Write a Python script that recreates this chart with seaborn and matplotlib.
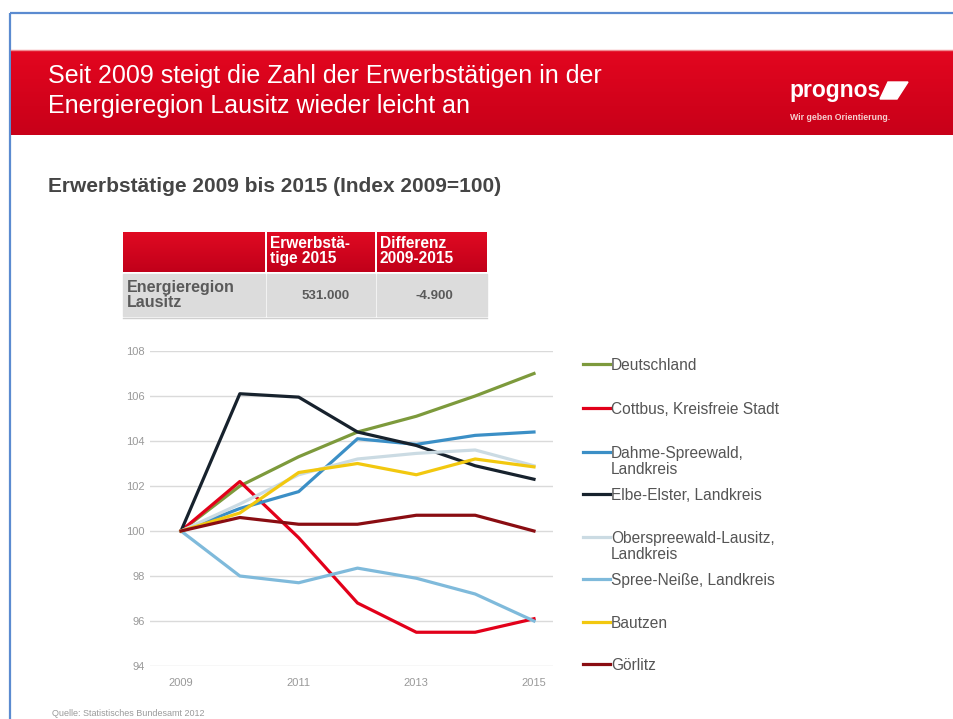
import numpy as np
import pandas as pd
import matplotlib
matplotlib.use("Agg")
import matplotlib.pyplot as plt
from matplotlib.patches import Rectangle
import seaborn as sns

years = [2009, 2010, 2011, 2012, 2013, 2014, 2015]

regions = ["Deutschland", "Cottbus, Kreisfreie Stadt", "Dahme-Spreewald,\nLandkreis",
           "Elbe-Elster, Landkreis", "Oberspreewald-Lausitz,\nLandkreis",
           "Spree-Neiße, Landkreis", "Bautzen", "Görlitz"]

deutschland = [100, 102.0, 103.3, 104.4, 105.1, 106.0, 107.0]
cottbus = [100, 102.2, 99.7, 96.8, 95.5, 95.5, 96.1]
dahme = [100, 101.0, 101.75, 104.1, 103.85, 104.25, 104.4]
elbe = [100, 106.1, 105.95, 104.4, 103.8, 102.9, 102.3]
oberspree = [100, 101.2, 102.5, 103.2, 103.45, 103.6, 102.9]
spree_neisse = [100, 98.0, 97.7, 98.35, 97.9, 97.2, 96.0]
bautzen = [100, 100.8, 102.6, 103.0, 102.5, 103.2, 102.85]
goerlitz = [100, 100.6, 100.3, 100.3, 100.7, 100.7, 100.0]

colors = ["#7d9a3c", "#e2001a", "#3b8fc6", "#17222d", "#cbdbe3",
          "#7fbadb", "#f2c80f", "#8a0d12"]

y_ticks = [94, 96, 98, 100, 102, 104, 106, 108]
x_ticks = [2009, 2011, 2013, 2015]

series = [deutschland, cottbus, dahme, elbe, oberspree, spree_neisse, bautzen, goerlitz]
df = pd.DataFrame({
    "Jahr": years * len(regions),
    "Index": [v for s in series for v in s],
    "Region": [r for r in regions for _ in years],
})
palette = dict(zip(regions, colors))

W, H = 954, 719
fig = plt.figure(figsize=(W / 100, H / 100), dpi=100)
plt.rcParams["font.family"] = ["Liberation Sans", "DejaVu Sans"]

# background in pixel coordinates
bg = fig.add_axes([0, 0, 1, 1])
bg.set_xlim(0, W)
bg.set_ylim(H, 0)
bg.axis("off")

# slide frame
bg.add_patch(Rectangle((10, 13), W + 20, H + 20, fill=False, edgecolor="#5b8bd0", lw=1.6))

# red title band with slight gradient
grad = np.linspace(0, 1, 64).reshape(-1, 1)
cmap_band = matplotlib.colors.LinearSegmentedColormap.from_list("band", ["#e3061f", "#c80019"])
bg.imshow(grad, extent=(11, W, 135, 50), cmap=cmap_band, aspect="auto", zorder=1)
bg.plot([11, W], [50, 50], color="#f08a90", lw=1, zorder=2)

bg.text(48, 76, "Seit 2009 steigt die Zahl der Erwerbstätigen in der", color="white",
        fontsize=18, va="center", ha="left", zorder=3)
bg.text(48, 106, "Energieregion Lausitz wieder leicht an", color="white",
        fontsize=18, va="center", ha="left", zorder=3)

# logo
bg.text(789, 97, "prognos", color="white", fontsize=16.5, fontweight="bold",
        va="baseline", ha="left", zorder=3)
bg.fill([888, 908, 897, 880], [82, 82, 99, 99], color="white", zorder=3)
bg.text(790, 117, "Wir geben Orientierung.", color="#f6d0d0", fontsize=6.3,
        fontweight="bold", va="center", ha="left", zorder=3)

# subtitle
bg.text(48, 187, "Erwerbstätige 2009 bis 2015 (Index 2009=100)", color="#454545",
        fontsize=15, fontweight="bold", va="center", ha="left")

# summary table
cmap_head = matplotlib.colors.LinearSegmentedColormap.from_list("head", ["#e00a22", "#c1001a"])
for x0, x1 in [(123, 265), (267, 375), (377, 487)]:
    bg.imshow(grad, extent=(x0, x1, 272, 232), cmap=cmap_head, aspect="auto", zorder=1)
    bg.add_patch(Rectangle((x0, 274), x1 - x0, 42, color="#dcdcdc", zorder=1))
bg.plot([123, 487], [318, 318], color="#cfcfcf", lw=1)
bg.text(270, 236, "Erwerbstä-\ntige 2015", color="white", fontsize=11.2, fontweight="bold",
        va="top", ha="left", linespacing=1.0)
bg.text(380, 236, "Differenz\n2009-2015", color="white", fontsize=11.2, fontweight="bold",
        va="top", ha="left", linespacing=1.0)
bg.text(127, 295, "Energieregion\nLausitz", color="#5a5a5a", fontsize=11.5, fontweight="bold",
        va="center", ha="left", linespacing=0.95)
bg.text(326, 296, "531.000", color="#5a5a5a", fontsize=9.5, fontweight="bold",
        va="center", ha="center")
bg.text(434, 296, "-4.900", color="#5a5a5a", fontsize=9.5, fontweight="bold",
        va="center", ha="center")

# source
bg.text(52, 714, "Quelle: Statistisches Bundesamt 2012", color="#9a9a9a",
        fontsize=6.5, va="center", ha="left")

# line chart
ax_l, ax_r, ax_t, ax_b = 150, 553, 351, 666
ax = fig.add_axes([ax_l / W, (H - ax_b) / H, (ax_r - ax_l) / W, (ax_b - ax_t) / H])
sns.lineplot(data=df, x="Jahr", y="Index", hue="Region", palette=palette,
             linewidth=2.3, legend=False, ax=ax, zorder=3)
ax.set_xlim(2009 - 31 / 58.8, 2015 + 19 / 58.8)
ax.set_ylim(94, 108)
ax.set_yticks(y_ticks)
ax.set_xticks(x_ticks)
ax.set_xlabel("")
ax.set_ylabel("")
ax.set_facecolor("none")
for s in ax.spines.values():
    s.set_visible(False)
ax.grid(axis="y", color="#dadada", lw=1, zorder=0)
ax.grid(axis="x", visible=False)
ax.tick_params(axis="both", length=0, labelsize=8, labelcolor="#999999")
ax.tick_params(axis="y", pad=4)
ax.tick_params(axis="x", pad=9)

# legend drawn beside the plot
leg_y = [364, 408, 452, 494, 537, 579, 622, 664]
for name, col, ly in zip(regions, colors, leg_y):
    bg.plot([583, 610], [ly, ly], color=col, lw=2.3)
    bg.text(611, ly - 6, name, color="#555555", fontsize=11.2, va="top", ha="left",
            linespacing=1.05)

fig.savefig("out.png", dpi=100)
